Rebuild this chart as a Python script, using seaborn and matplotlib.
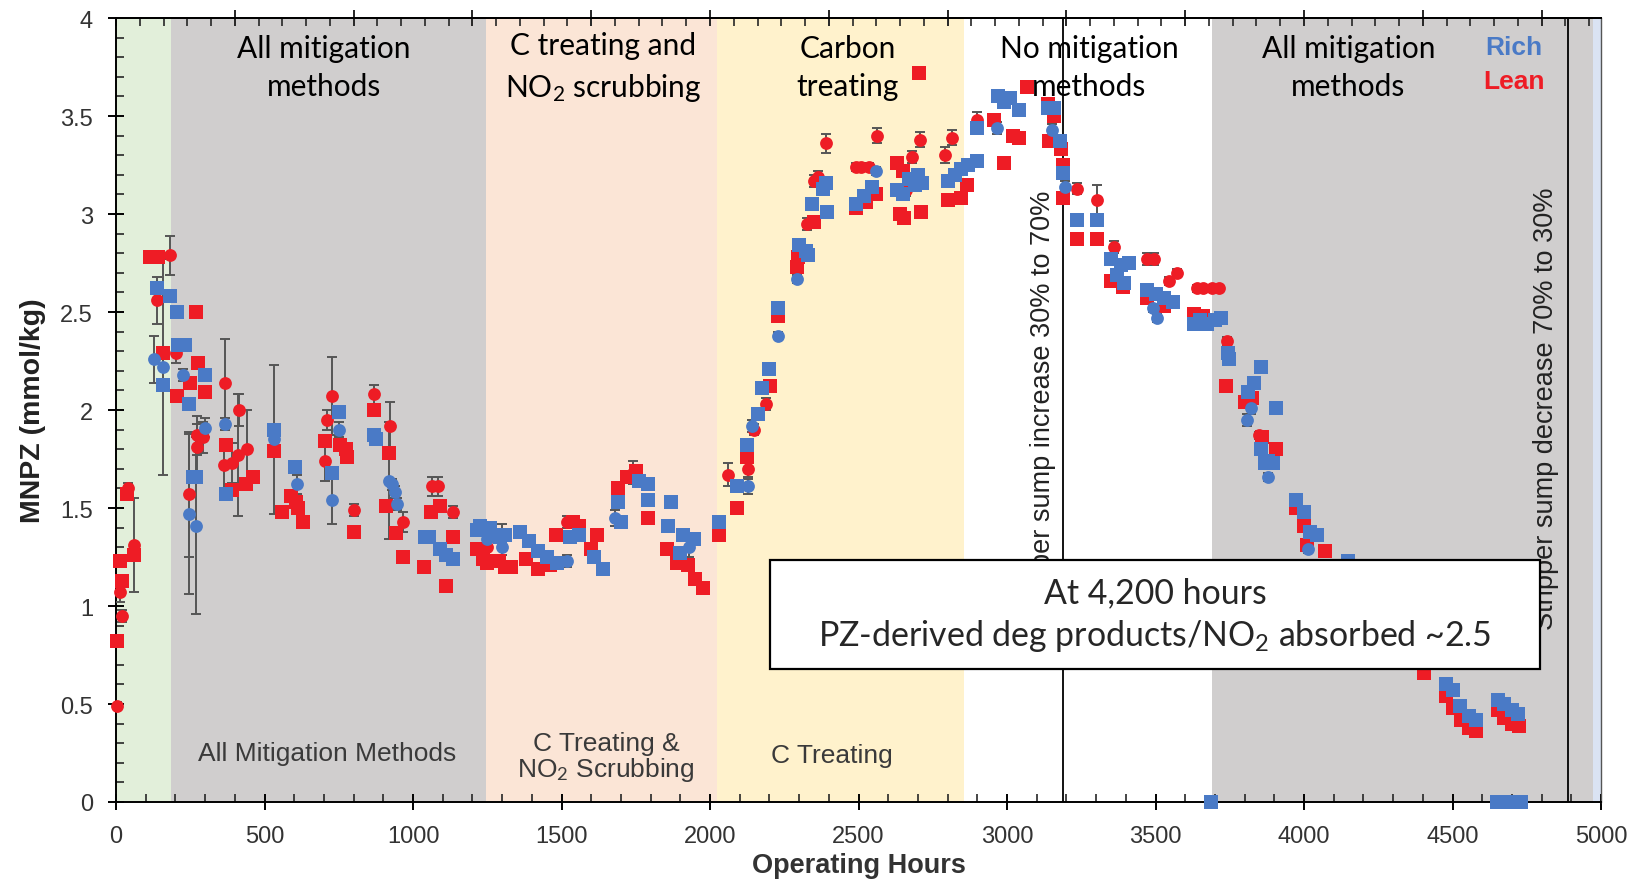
import matplotlib
matplotlib.use("Agg")
import matplotlib.pyplot as plt
import seaborn as sns
import pandas as pd
from matplotlib.ticker import MultipleLocator, FuncFormatter
from matplotlib.patches import Rectangle

# ---------------- data ----------------
phase_starts = [0, 185, 1245, 2025, 2855, 3690, 4972]
phase_ends = [185, 1245, 2025, 2855, 3690, 4972, 5000]
phase_colors = ["#e2efda", "#d0cece", "#fbe5d6", "#fff2cc", "#ffffff", "#d0cece", "#dae3f3"]

sump_change_hours = [3187, 4888]

lean_sq_h = [3, 20, 15, 37, 61, 115, 140, 159, 270, 277, 249, 204, 300, 370, 392, 438, 462, 532, 558, 590,
             605, 612, 631, 704, 755, 775, 778, 800, 870, 918, 909, 944, 966, 1037, 1060, 1090, 1110, 1135,
             1215, 1235, 1250, 1270, 1290, 1310, 1330, 1380, 1420, 1460, 1480, 1540, 1560, 1600, 1620,
             1690, 1720, 1750, 1790, 1855, 1890, 1925, 1950, 1975, 2030, 2092, 2125, 2203, 2228, 2293, 2296,
             2350, 2490, 2525, 2560, 2630, 2650, 2653, 2640, 2712, 2703, 2800, 2845, 2865, 2955, 2989, 3020,
             3040, 3068, 3138, 3158, 3140, 3182, 3190, 3190, 3237, 3304, 3350, 3390, 3473, 3530, 3630, 3660,
             3737, 3800, 3825, 3860, 3905, 3972, 4000, 4010, 4070, 4150, 4300, 4405, 4478, 4500, 4530, 4555,
             4580, 4653, 4675, 4700, 4725]
lean_sq_v = [0.82, 1.13, 1.23, 1.57, 1.26, 2.78, 2.78, 2.29, 2.50, 2.24, 2.14, 2.07, 2.09, 1.82, 1.59, 1.62,
             1.66, 1.79, 1.48, 1.56, 1.53, 1.50, 1.43, 1.84, 1.82, 1.80, 1.76, 1.38, 2.00, 1.78, 1.51, 1.37,
             1.25, 1.20, 1.48, 1.51, 1.10, 1.35, 1.29, 1.24, 1.22, 1.23, 1.23, 1.20, 1.20, 1.24, 1.19, 1.21,
             1.36, 1.43, 1.41, 1.29, 1.36, 1.60, 1.66, 1.69, 1.45, 1.29, 1.22, 1.21, 1.14, 1.09, 1.36, 1.50,
             1.76, 2.12, 2.48, 2.73, 2.78, 2.96, 3.03, 3.06, 3.10, 3.26, 3.22, 2.98, 3.00, 3.01, 3.72, 3.07,
             3.08, 3.15, 3.48, 3.26, 3.40, 3.39, 3.65, 3.56, 3.50, 3.37, 3.33, 3.25, 3.08, 2.87, 2.87, 2.66,
             2.63, 2.57, 2.53, 2.49, 2.48, 2.12, 2.04, 2.06, 1.86, 1.80, 1.50, 1.41, 1.31, 1.28, 1.10, 0.85,
             0.66, 0.54, 0.48, 0.42, 0.38, 0.36, 0.47, 0.43, 0.40, 0.39]

lean_ci_h = [3, 19, 15, 40, 61, 182, 137, 202, 246, 273, 293, 273, 367, 415, 363, 390, 410, 440,
             727, 710, 704, 800, 870, 923, 968, 1065, 1085, 1135, 1250, 1300, 1520, 1740, 2060, 2128, 2147,
             2190, 2325, 2350, 2365, 2389, 2490, 2510, 2535, 2563, 2680, 2707, 2660, 2790, 2815, 2898,
             3237, 3304, 3360, 3473, 3495, 3546, 3574, 3640, 3660, 3690, 3715, 3740, 3850, 3855]
lean_ci_v = [0.49, 0.95, 1.07, 1.60, 1.31, 2.79, 2.56, 2.29, 1.57, 1.87, 1.86, 1.81, 2.14, 2.00, 1.72, 1.73,
             1.77, 1.80, 2.07, 1.95, 1.74, 1.49, 2.08, 1.92, 1.43, 1.61, 1.61, 1.48, 1.30, 1.36, 1.43, 1.68,
             1.67, 1.70, 1.90, 2.03, 2.95, 3.17, 3.19, 3.36, 3.24, 3.24, 3.24, 3.40, 3.29, 3.38, 3.12, 3.30,
             3.39, 3.48, 3.13, 3.07, 2.83, 2.77, 2.77, 2.66, 2.70, 2.62, 2.62, 2.62, 2.62, 2.35, 1.87, 1.83]
lean_ci_err = [0.02, 0.03, 0.05, 0.03, 0.24, 0.10, 0.12, 0.05, 0.32, 0.10, 0.08, 0.12, 0.22, 0.08, 0.12, 0.10,
               0.31, 0.20, 0.20, 0.05, 0.10, 0.03, 0.05, 0.12, 0.05, 0.05, 0.05, 0.03, 0.08, 0.06, 0.03, 0.06,
               0.06, 0.04, 0.03, 0.03, 0.03, 0.03, 0.03, 0.05, 0.02, 0.02, 0.02, 0.04, 0.03, 0.04, 0.03, 0.04,
               0.04, 0.04, 0.03, 0.08, 0.03, 0.03, 0.03, 0.02, 0.02, 0.02, 0.02, 0.02, 0.02, 0.02, 0.02, 0.02]

rich_sq_h = [137, 159, 182, 204, 210, 232, 246, 300, 260, 270, 370, 532, 603, 752, 727, 870, 875,
             1041, 1055, 1092, 1112, 1135, 1215, 1225, 1290, 1310, 1260, 1294, 1360, 1390, 1420, 1450, 1486,
             1530, 1560, 1640, 1610, 1690, 1700, 1760, 1790, 1790, 1870, 1860, 1910, 1945, 1900,
             2030, 2092, 2125, 2160, 2175, 2200, 2228, 2300, 2323, 2330, 2343, 2389, 2380, 2395,
             2490, 2520, 2545, 2630, 2650, 2670, 2690, 2700, 2715, 2800, 2825, 2845, 2870, 2900, 2900,
             2970, 2990, 3010, 3040, 3138, 3158, 3180, 3190, 3237, 3304, 3350, 3385, 3410, 3370, 3395,
             3473, 3500, 3530, 3560, 3630, 3650, 3675, 3700, 3720, 3745, 3747, 3854, 3832, 3810, 3905,
             3855, 3880, 3895, 3870, 3972, 4000, 4020, 4045, 4147, 4478, 4500, 4525, 4555, 4580, 4653,
             4675, 4700, 4720, 3686, 4650, 4670, 4690, 4710, 4730]
rich_sq_v = [2.62, 2.13, 2.58, 2.50, 2.33, 2.33, 2.03, 2.18, 1.66, 1.66, 1.57, 1.90, 1.71, 1.99, 1.68, 1.87, 1.85,
             1.35, 1.35, 1.29, 1.26, 1.24, 1.39, 1.41, 1.36, 1.36, 1.40, 1.35, 1.38, 1.33, 1.28, 1.25, 1.22,
             1.35, 1.36, 1.19, 1.25, 1.53, 1.43, 1.64, 1.62, 1.54, 1.53, 1.41, 1.36, 1.34, 1.27,
             1.43, 1.61, 1.82, 1.98, 2.11, 2.21, 2.52, 2.84, 2.81, 2.79, 3.05, 3.16, 3.13, 3.01,
             3.05, 3.09, 3.14, 3.12, 3.10, 3.18, 3.15, 3.20, 3.16, 3.17, 3.20, 3.23, 3.25, 3.27, 3.44,
             3.60, 3.57, 3.59, 3.53, 3.54, 3.54, 3.37, 3.21, 2.97, 2.97, 2.77, 2.74, 2.75, 2.69, 2.65,
             2.61, 2.59, 2.57, 2.55, 2.44, 2.46, 2.44, 2.46, 2.47, 2.29, 2.26, 2.22, 2.14, 2.09, 2.01,
             1.80, 1.74, 1.73, 1.73, 1.54, 1.48, 1.38, 1.36, 1.23, 0.60, 0.57, 0.49, 0.44, 0.42, 0.52,
             0.50, 0.47, 0.45, 0.0, 0.0, 0.0, 0.0, 0.0, 0.0]

rich_ci_h = [129, 159, 226, 300, 246, 270, 367, 532, 608, 752, 727, 920, 930, 940, 945, 1250,
             1300, 1520, 1680, 1930, 2128, 2140, 2228, 2293, 2560, 2965, 3150, 3195,
             3490, 3505, 3809, 3820, 3880, 4015]
rich_ci_v = [2.26, 2.22, 2.18, 1.91, 1.47, 1.41, 1.93, 1.85, 1.62, 1.90, 1.54, 1.64, 1.62, 1.58, 1.52, 1.34,
             1.30, 1.23, 1.45, 1.30, 1.61, 1.92, 2.38, 2.67, 3.22, 3.44, 3.43, 3.14,
             2.52, 2.47, 1.95, 2.01, 1.66, 1.29]
rich_ci_err = [0.12, 0.55, 0.03, 0.05, 0.41, 0.45, 0.03, 0.38, 0.05, 0.04, 0.12, 0.30, 0.03, 0.03, 0.03, 0.05,
               0.04, 0.03, 0.04, 0.05, 0.04, 0.03, 0.02, 0.02, 0.02, 0.03, 0.03, 0.03,
               0.02, 0.02, 0.03, 0.03, 0.02, 0.02]

x_ticks = [0, 500, 1000, 1500, 2000, 2500, 3000, 3500, 4000, 4500, 5000]
y_ticks = [0, 0.5, 1, 1.5, 2, 2.5, 3, 3.5, 4]

RICH = "#4a7ac6"
LEAN = "#ee1c25"

# ---------------- style ----------------
sns.set_style("ticks")
plt.rcParams["font.family"] = ["Liberation Sans", "DejaVu Sans"]
plt.rcParams["mathtext.fontset"] = "custom"
plt.rcParams["mathtext.rm"] = "Lato"
plt.rcParams["mathtext.it"] = "Lato:italic"
plt.rcParams["mathtext.bf"] = "Lato:bold"

fig = plt.figure(figsize=(16.38, 8.87), dpi=100)
ax = fig.add_axes([116 / 1638, 1 - 803 / 887, (1601 - 116) / 1638, (803 - 19) / 887])
ax.set_xlim(0, 5000)
ax.set_ylim(0, 4)

for s, e, c in zip(phase_starts, phase_ends, phase_colors):
    ax.axvspan(s, e, color=c, lw=0, zorder=0)
for h in sump_change_hours:
    ax.axvline(h, color="black", lw=1.3, zorder=1)

# error bars
ax.errorbar(lean_ci_h, lean_ci_v, yerr=lean_ci_err, fmt="none", ecolor="#555555",
            elinewidth=1.4, capsize=3.5, capthick=1.4, zorder=3)
ax.errorbar(rich_ci_h, rich_ci_v, yerr=rich_ci_err, fmt="none", ecolor="#555555",
            elinewidth=1.4, capsize=3.5, capthick=1.4, zorder=3)

lean_sq = pd.DataFrame({"hours": lean_sq_h, "mnpz": lean_sq_v})
lean_ci = pd.DataFrame({"hours": lean_ci_h, "mnpz": lean_ci_v})
rich_sq = pd.DataFrame({"hours": rich_sq_h, "mnpz": rich_sq_v})
rich_ci = pd.DataFrame({"hours": rich_ci_h, "mnpz": rich_ci_v})

sns.scatterplot(data=lean_sq, x="hours", y="mnpz", marker="s", s=105, color=LEAN, linewidth=0,
                ax=ax, zorder=4, clip_on=False, legend=False)
sns.scatterplot(data=lean_ci, x="hours", y="mnpz", marker="o", s=85, color=LEAN, linewidth=0,
                ax=ax, zorder=4, clip_on=False, legend=False)
sns.scatterplot(data=rich_sq, x="hours", y="mnpz", marker="s", s=105, color=RICH, linewidth=0,
                ax=ax, zorder=5, clip_on=False, legend=False)
sns.scatterplot(data=rich_ci, x="hours", y="mnpz", marker="o", s=85, color=RICH, linewidth=0,
                ax=ax, zorder=5, clip_on=False, legend=False)

# ---------------- axes ----------------
ax.set_xticks(x_ticks)
ax.set_yticks(y_ticks)
ax.xaxis.set_minor_locator(MultipleLocator(100))
ax.yaxis.set_minor_locator(MultipleLocator(0.1))
ax.yaxis.set_major_formatter(FuncFormatter(lambda v, p: f"{v:g}"))
ax.xaxis.set_major_formatter(FuncFormatter(lambda v, p: f"{int(v)}"))
ax.tick_params(which="major", direction="inout", length=11, width=1.4, colors="black",
               labelsize=17, labelcolor="#333333", top=False, right=False)
ax.tick_params(axis="x", which="major", pad=11)
ax.tick_params(axis="y", which="major", pad=11)
ax.tick_params(which="minor", direction="in", length=6, width=1.2, top=False, right=False)
for sp in ["left", "bottom", "top"]:
    ax.spines[sp].set_linewidth(1.4)
    ax.spines[sp].set_color("black")
ax.spines["right"].set_linewidth(1.0)
ax.spines["right"].set_color("#555555")

top = ax.secondary_xaxis("top")
top.set_xticks(list(range(400, 5000, 400)))
top.xaxis.set_minor_locator(MultipleLocator(80))
top.tick_params(which="major", direction="inout", length=11, width=1.4, labeltop=False)
top.tick_params(which="minor", direction="in", length=6, width=1.2)
top.spines["top"].set_linewidth(1.4)

ax.set_xlabel("Operating Hours", fontsize=19.5, fontweight="bold", color="#333333", labelpad=4)
ax.set_ylabel("MNPZ (mmol/kg)", fontsize=20.5, fontweight="bold", color="#222222", labelpad=10)

# ---------------- annotations ----------------
top_kw = dict(family="Lato", fontsize=21.5, color="black", ha="center", va="center",
              linespacing=1.45, zorder=8)
ax.text(701, 3.75, "All mitigation\nmethods", **top_kw)
ax.text(1640, 3.75, "C treating and\nNO$_2$ scrubbing", **top_kw)
ax.text(2463, 3.75, "Carbon\ntreating", **top_kw)
ax.text(3277, 3.75, "No mitigation\nmethods", **top_kw)
ax.text(4149, 3.75, "All mitigation\nmethods", **top_kw)

ax.text(4706, 3.85, "Rich", color=RICH, fontsize=19, fontweight="bold", ha="center", va="center",
        family=["Liberation Sans Narrow", "Liberation Sans"], zorder=8)
ax.text(4706, 3.68, "Lean", color=LEAN, fontsize=19, fontweight="bold", ha="center", va="center",
        family=["Liberation Sans Narrow", "Liberation Sans"], zorder=8)

bot_kw = dict(fontsize=19, color="#3a3a3a", ha="center", va="center", linespacing=1.0, zorder=2)
ax.text(711, 0.25, "All Mitigation Methods", **bot_kw)
ax.text(1650, 0.23, "C Treating &\nNO$_2$ Scrubbing", **bot_kw)
ax.text(2411, 0.24, "C Treating", **bot_kw)

rot_kw = dict(fontsize=19.5, color="#222222", rotation=90, ha="center", va="center", zorder=2)
ax.text(3120, 2.02, "Stripper sump increase 30% to 70%", **rot_kw)
ax.text(4815, 2.01, "Stripper sump decrease 70% to 30%", **rot_kw)

ax.add_patch(Rectangle((0.4404, 0.1696), 0.5185, 0.1391, transform=ax.transAxes,
                       facecolor="white", edgecolor="black", lw=1.6, zorder=9))
ax.text(0.6996, 0.2391, "At 4,200 hours\nPZ-derived deg products/NO$_2$ absorbed ~2.5",
        transform=ax.transAxes, family="Lato", fontsize=24.4, ha="center", va="center",
        linespacing=1.3, zorder=10)

fig.savefig("out.png", dpi=100)
